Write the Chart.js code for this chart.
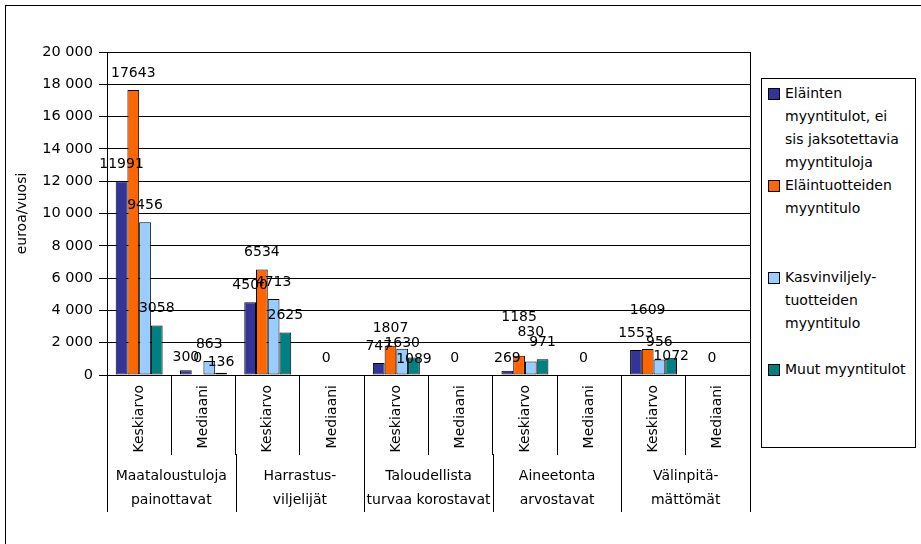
<!DOCTYPE html>
<html>
<head>
<meta charset="utf-8">
<script src="https://cdn.jsdelivr.net/npm/chart.js@4.4.1/dist/chart.umd.min.js"></script>
<style>
  html, body { margin: 0; padding: 0; background: #fff; overflow: hidden; }
  #wrap { position: relative; width: 921px; height: 544px; }
  #frame { position: absolute; left: 5px; top: 5px; width: 940px; height: 560px; border: 1px solid #000; }
  #chart { position: absolute; left: 0; top: 0; }
  #legend {
    position: absolute; left: 761px; top: 78px; width: 155px; height: 370px;
    box-sizing: border-box; border: 1px solid #000; background: #fff;
    font: 14px "DejaVu Sans", sans-serif; color: #000; line-height: 23px;
    padding: 3px 0 0 0;
  }
  .item { position: relative; height: 92px; padding-left: 23px; width: 122px; white-space: normal; }
  .item:last-child { height: auto; white-space: nowrap; }
  .swatch { position: absolute; left: 6px; top: 6px; width: 10px; height: 10px; border: 1px solid #000; }
</style>
</head>
<body>
<div id="wrap">
  <div id="frame"></div>
  <canvas id="chart" width="921" height="544"></canvas>
  <div id="legend"></div>
</div>
<script>
// groups on the second axis row, two text lines each
const groupNames = [
  ['Maataloustuloja', 'painottavat'],
  ['Harrastus-', 'viljelijät'],
  ['Taloudellista', 'turvaa korostavat'],
  ['Aineetonta', 'arvostavat'],
  ['Välinpitä-', 'mättömät']
];
const subNames = ['Keskiarvo', 'Mediaani'];

// categories: Keskiarvo / Mediaani for every group
const categories = [];
groupNames.forEach(() => subNames.forEach(s => categories.push(s)));

const seriesNames = [
  'Eläinten myyntitulot, ei sis jaksotettavia myyntituloja',
  'Eläintuotteiden myyntitulo',
  'Kasvinviljely-tuotteiden myyntitulo',
  'Muut myyntitulot'
];
const seriesColors = ['#333399', '#FF6600', '#99CCFF', '#008080'];

const elaintenMyynti   = [11991, 300,  4500, null, 747,  null, 269,  null, 1553, null];
const elaintuotteet    = [17643, 0,    6534, 0,    1807, 0,    1185, 0,    1609, 0];
const kasvinviljely    = [9456,  863,  4713, null, 1630, null, 830,  null, 956,  null];
const muutMyynti       = [3058,  136,  2625, null, 1089, null, 971,  null, 1072, null];
const seriesValues = [elaintenMyynti, elaintuotteet, kasvinviljely, muutMyynti];

const yMax = 20000;
const yStep = 2000;

// value label distance above bar top; a few labels sit elsewhere in the original
const labelLift = 17;
const labelLiftOverrides = {
  '0:1': 13, '3:1': 10, '0:6': 12,
  '2:4': 5, '3:4': -2,
  '1:6': 39, '2:6': 29,
  '1:8': 39, '3:8': 1
};

const FONT = '"DejaVu Sans", sans-serif';
Chart.defaults.font.family = FONT;
Chart.defaults.font.size = 14;
Chart.defaults.color = '#000';

// value labels, group row, group separators, right border
const extras = {
  id: 'extras',
  afterDatasetsDraw(chart) {
    const ctx = chart.ctx;
    ctx.save();
    ctx.font = '14px ' + FONT;
    ctx.fillStyle = '#000';
    ctx.textAlign = 'center';
    ctx.textBaseline = 'middle';
    chart.data.datasets.forEach((ds, i) => {
      chart.getDatasetMeta(i).data.forEach((bar, j) => {
        const v = ds.data[j];
        if (v === null) return;
        const lift = labelLiftOverrides[i + ':' + j] ?? labelLift;
        ctx.fillText(String(v), bar.x, bar.y - lift);
      });
    });
    ctx.restore();
  },
  afterDraw(chart) {
    const { ctx, chartArea } = chart;
    const x = chart.scales.x;
    const half = (x.getPixelForValue(1) - x.getPixelForValue(0)) / 2;
    ctx.save();
    ctx.strokeStyle = '#000';
    ctx.lineWidth = 1;
    ctx.beginPath();
    const rx = Math.round(chartArea.right) + 0.5;
    ctx.moveTo(rx, chartArea.top);
    ctx.lineTo(rx, chartArea.bottom);
    for (let g = 0; g <= groupNames.length; g++) {
      const px = Math.round(x.getPixelForValue(g * 2) - half) + 0.5;
      ctx.moveTo(px, chartArea.bottom + 79);
      ctx.lineTo(px, chartArea.bottom + 137);
    }
    ctx.stroke();
    ctx.font = '14px ' + FONT;
    ctx.fillStyle = '#000';
    ctx.textAlign = 'center';
    ctx.textBaseline = 'middle';
    groupNames.forEach((lines, g) => {
      const cx = (x.getPixelForValue(g * 2) + x.getPixelForValue(g * 2 + 1)) / 2;
      lines.forEach((t, k) => ctx.fillText(t, cx, chartArea.bottom + 101 + k * 24));
    });
    ctx.restore();
  }
};

new Chart(document.getElementById('chart'), {
  type: 'bar',
  data: {
    labels: categories,
    datasets: seriesValues.map((vals, i) => ({
      label: seriesNames[i],
      data: vals,
      backgroundColor: seriesColors[i],
      borderColor: '#000',
      borderWidth: 1,
      borderSkipped: false,
      categoryPercentage: 0.73,
      barPercentage: 1.0
    }))
  },
  options: {
    responsive: false,
    animation: false,
    devicePixelRatio: 1,
    layout: { padding: { left: 0, top: 52, right: 171, bottom: 0 } },
    plugins: { legend: { display: false }, tooltip: { enabled: false } },
    scales: {
      x: {
        grid: { drawOnChartArea: false, tickLength: 80, color: '#000', offset: true },
        border: { color: '#000' },
        ticks: { minRotation: 90, maxRotation: 90, padding: -70, autoSkip: false, color: '#000',
                 font: { size: 14 } },
        afterFit(scale) { scale.height = 169; }
      },
      y: {
        min: 0,
        max: yMax,
        grid: { color: '#000', tickLength: 8 },
        border: { color: '#000' },
        ticks: {
          stepSize: yStep,
          padding: 6,
          color: '#000',
          font: { size: 14.5 },
          callback: v => String(v).replace(/\B(?=(\d{3})+(?!\d))/g, ' ')
        },
        title: { display: true, text: 'euroa/vuosi', color: '#000', font: { size: 14 },
                 padding: { top: 14, bottom: 0 } },
        afterFit(scale) { scale.width = 107; }
      }
    }
  },
  plugins: [extras]
});

// legend as html, one block per series
const legend = document.getElementById('legend');
seriesNames.forEach((name, i) => {
  const item = document.createElement('div');
  item.className = 'item';
  const sw = document.createElement('span');
  sw.className = 'swatch';
  sw.style.background = seriesColors[i];
  item.appendChild(sw);
  item.appendChild(document.createTextNode(name));
  legend.appendChild(item);
});
</script>
</body>
</html>
